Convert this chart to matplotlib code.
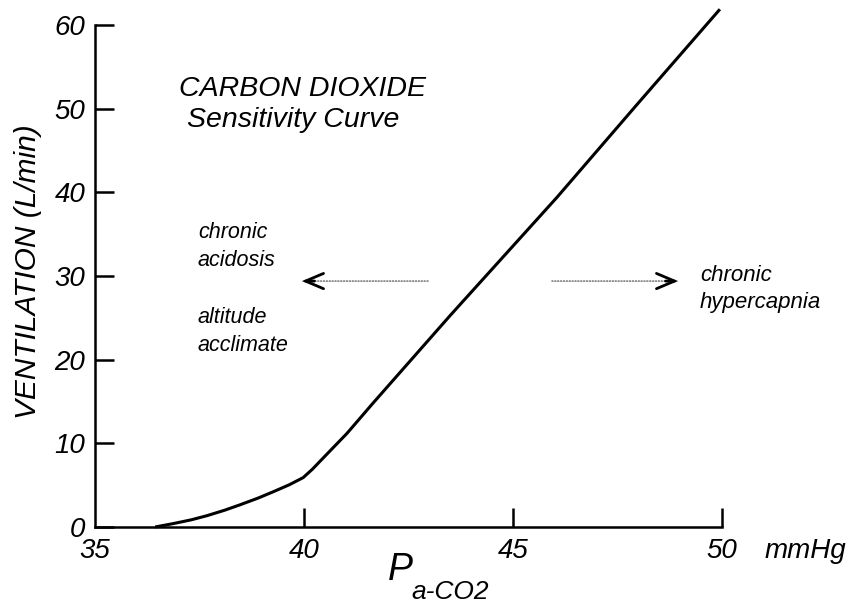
import matplotlib
matplotlib.use("Agg")
from matplotlib import pyplot as plt

# CO2 sensitivity curve
pco2 = [36.44, 36.87, 37.3, 37.68, 38.1, 38.47, 38.9, 39.26, 39.65, 39.98,
        40.2, 40.45, 41.03, 41.65, 43.5, 46.05, 48.0, 49.95]
ventilation = [0.0, 0.4, 0.85, 1.35, 2.0, 2.65, 3.45, 4.2, 5.05, 5.9,
               6.9, 8.2, 11.2, 14.8, 25.3, 39.4, 50.7, 61.9]

x_ticks = [35, 40, 45, 50]
y_ticks = [0, 10, 20, 30, 40, 50, 60]

plt.rcParams['font.family'] = ['Liberation Sans', 'DejaVu Sans']
plt.rcParams['font.style'] = 'italic'

fig = plt.figure(figsize=(8.53, 6.05), dpi=100)
ax = fig.add_axes([0.1114, 0.129, 0.735, 0.864])

ax.plot(pco2, ventilation, color="black", lw=2.2, clip_on=False,
        solid_capstyle="butt", solid_joinstyle="round")

ax.set_xlim(35, 50)
ax.set_ylim(0, 62.5)
for s in ["top", "right"]:
    ax.spines[s].set_visible(False)
ax.spines["left"].set_bounds(0, 60)
ax.spines["left"].set_linewidth(1.8)
ax.spines["bottom"].set_linewidth(1.8)

ax.set_xticks(x_ticks)
ax.set_yticks(y_ticks)
ax.set_xticklabels([str(v) for v in x_ticks], fontsize=20, style="italic")
ax.set_yticklabels([str(v) for v in y_ticks], fontsize=20, style="italic")
ax.tick_params(axis="both", direction="in", length=14, width=1.8)
ax.tick_params(axis="x", pad=8)
ax.tick_params(axis="y", pad=7)
ax.xaxis.get_major_ticks()[0].tick1line.set_visible(False)

# y label: right side of the rotated text sits at x=42 px, centred at y=272 px
ax.set_ylabel("VENTILATION (L/min)", fontsize=21.5, style="italic")
ax.yaxis.set_label_coords((42 / 853 - 0.1114) / 0.735, (527 - 272) / 523)

fig.text(765 / 853, 1 - 551 / 605, "mmHg", fontsize=20, style="italic", va="center", ha="left")
fig.text(388 / 853, 1 - 570 / 605, "P", fontsize=27, style="italic", va="center", ha="left")
fig.text(411 / 853, 1 - 592 / 605, "a-CO2", fontsize=19, style="italic", va="center", ha="left")

ax.text(37.02, 52.4, "CARBON DIOXIDE", fontsize=20.5, style="italic", va="center")
ax.text(37.2, 48.7, "Sensitivity Curve", fontsize=20.5, style="italic", va="center")

ax.text(37.46, 35.2, "chronic", fontsize=15.5, style="italic", va="center")
ax.text(37.46, 31.9, "acidosis", fontsize=15.5, style="italic", va="center")
ax.text(37.46, 25.0, "altitude", fontsize=15.5, style="italic", va="center")
ax.text(37.46, 21.7, "acclimate", fontsize=15.5, style="italic", va="center")
ax.text(49.47, 30.1, "chronic", fontsize=16, style="italic", va="center")
ax.text(49.47, 26.8, "hypercapnia", fontsize=16, style="italic", va="center")

# dotted shafts
shaft = dict(arrowstyle="-", color="#555555", lw=0.9, linestyle=(0, (1, 1.3)),
             shrinkA=0, shrinkB=0)
ax.annotate("", xy=(40.2, 29.4), xytext=(42.97, 29.4), arrowprops=shaft)
ax.annotate("", xy=(48.7, 29.4), xytext=(45.93, 29.4), arrowprops=shaft)
# heads
head = dict(arrowstyle="->,head_length=1.3,head_width=0.55", color="black",
            lw=2.0, shrinkA=0, shrinkB=0, joinstyle="miter")
ax.annotate("", xy=(39.95, 29.4), xytext=(40.25, 29.4), arrowprops=head)
ax.annotate("", xy=(48.95, 29.4), xytext=(48.65, 29.4), arrowprops=head)

fig.savefig("out.png", dpi=100)
